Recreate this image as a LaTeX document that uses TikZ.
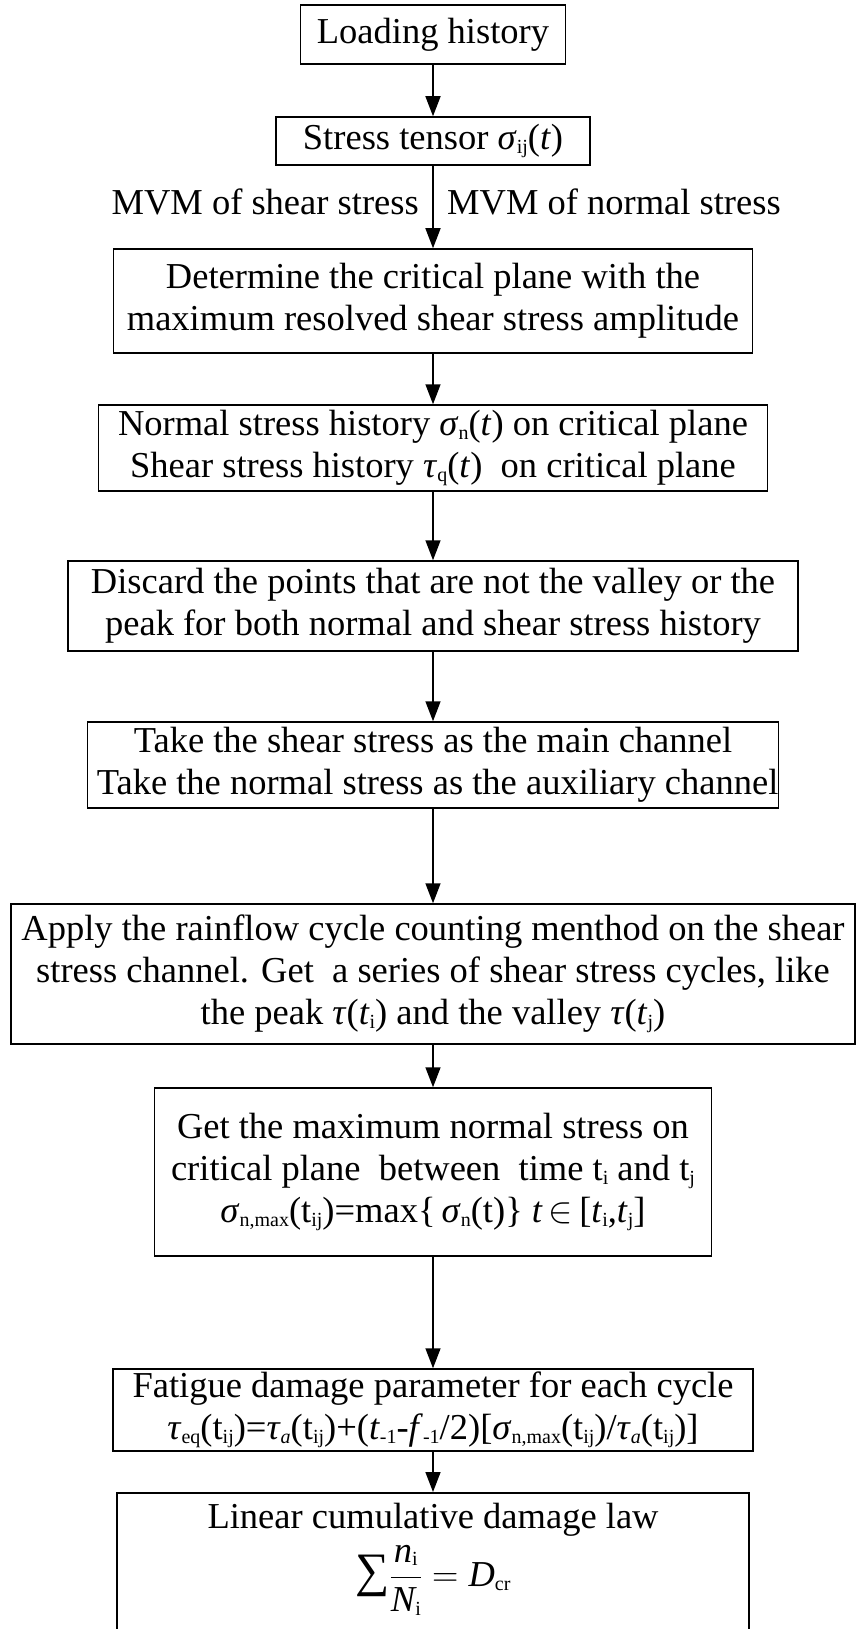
\RequirePackage{fix-cm}
\documentclass[tikz,border=0pt]{standalone}
\usepackage{fontspec}
\setmainfont{Liberation Serif}
\usetikzlibrary{arrows.meta}
\newcommand\sbs[1]{\raisebox{-0.2ex}{\fontsize{20}{20}\selectfont #1}}
\newcommand\gi[1]{\textit{#1}}
\begin{document}
\begin{tikzpicture}[x=1pt,y=-1pt,
  box/.style={draw, line width=1.5pt, inner sep=0pt, align=center, font=\fontsize{36.5}{42}\selectfont},
  lbl/.style={inner sep=0pt, align=center, font=\fontsize{36.5}{42}\selectfont},
  arr/.style={line width=1.5pt, -{Triangle[length=20pt,width=15pt]}}]
\useasboundingbox (0,0) rectangle (855,1629);
\node[box, minimum width=265pt, minimum height=59pt] (b1) at (433,34.5) {Loading history};
\node[box, minimum width=314pt, minimum height=48pt] (b2) at (433,141) {Stress tensor \gi{σ}\sbs{ij}(\gi{t})};
\node[lbl, anchor=east] (l1) at (419,202) {MVM of shear stress};
\node[lbl, anchor=west] (l2) at (447,202) {MVM of normal stress};
\node[box, minimum width=639pt, minimum height=104pt] (b3) at (433,301) {Determine the critical plane with the\\maximum resolved shear stress amplitude};
\node[box, minimum width=669pt, minimum height=86pt] (b4) at (433,448) {Normal stress history \gi{σ}\sbs{n}(\gi{t}) on critical plane\\Shear stress history \gi{τ}\sbs{q}(\gi{t})~ on critical plane};
\node[box, minimum width=730pt, minimum height=90pt] (b5) at (433,606) {Discard the points that are not the valley or the\\peak for both normal and shear stress history};
\node[box, minimum width=675pt, minimum height=86pt] (b6) at (433,765) {Take the shear stress as the main channel\\~Take the normal stress as the auxiliary channel};
\node[box, minimum width=844pt, minimum height=140pt] (b7) at (433,974) {Apply the rainflow cycle counting menthod on the shear\\stress channel. Get~ a series of shear stress cycles, like\\the peak \gi{τ}(\gi{t}\sbs{i}) and the valley \gi{τ}(\gi{t}\sbs{j})};
\node[box, minimum width=557pt, minimum height=168pt] (b8) at (433,1172) {Get the maximum normal stress on\\critical plane~ between~ time t\sbs{i} and t\sbs{j}\\\gi{σ}\sbs{n,max}(t\sbs{ij})=max\{\,\gi{σ}\sbs{n}(t)\} \gi{t}\,$\in$\,[\gi{t}\sbs{i},\gi{t}\sbs{j}]};
\node[box, minimum width=640pt, minimum height=82pt] (b9) at (433,1410) {Fatigue damage parameter for each cycle\\\gi{τ}\sbs{eq}(t\sbs{ij})=\gi{τ}\sbs{\gi{a}}(t\sbs{ij})+(\gi{t}\sbs{-1}-\gi{f}\sbs{-1}/2)[\gi{σ}\sbs{n,max}(t\sbs{ij})/\gi{τ}\sbs{\gi{a}}(t\sbs{ij})]};
\node[draw, line width=1.5pt, inner sep=0pt, minimum width=632pt, minimum height=160pt, anchor=north] (b10) at (433,1492) {};
\node[lbl] (b10t) at (433,1520) {Linear cumulative damage law};
\node[lbl] (b10f) at (433,1580) {{\fontsize{48}{48}\selectfont ∑}$\displaystyle\frac{\textit{n}\sbs{i}}{\textit{N}\sbs{i}}=\textit{D}\sbs{cr}$};
\draw[arr] (b1) -- (b2);
\draw[arr] (b2) -- (b3);
\draw[arr] (b3) -- (b4);
\draw[arr] (b4) -- (b5);
\draw[arr] (b5) -- (b6);
\draw[arr] (b6) -- (b7);
\draw[arr] (b7) -- (b8);
\draw[arr] (b8) -- (b9);
\draw[arr] (b9) -- (b10);
\end{tikzpicture}
\end{document}
